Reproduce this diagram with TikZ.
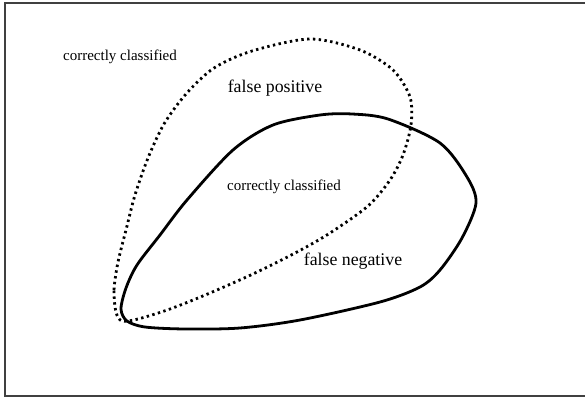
\documentclass[tikz,border=0pt]{standalone}
\usepackage{fontspec}
\setmainfont{Liberation Serif}
\usetikzlibrary{positioning, calc}

\begin{document}
\begin{tikzpicture}[x=1pt, y=-1pt,
    actual/.style={line width=2.8pt, line join=round},
    predicted/.style={line width=2.8pt, dash pattern=on 2.4pt off 3.4pt},
    smalltext/.style={font=\fontsize{15}{17}\selectfont, inner sep=0pt},
    bigtext/.style={font=\fontsize{17.8}{20}\selectfont, inner sep=0pt}]
      \useasboundingbox (0,0) rectangle (585,398);
      \draw[line width=1.2pt, draw=black!75] (5,3) rectangle (592,396);

      % predicted class (dotted)
      \draw[predicted] plot[smooth cycle, tension=0.5] coordinates {
        (116,312) (114,290) (118,262) (126,230) (135,195) (148,158)
        (164,124) (186,94) (214,68) (252,51) (310,39) (360,50) (393,70)
        (410,97) (411,125) (403,155) (390,180) (368,206) (330,233)
        (297,252) (255,273) (210,293) (170,309) (138,319) (122,321)};

      % actual class (solid)
      \draw[actual] plot[smooth cycle, tension=0.5] coordinates {
        (121,309) (126,288) (137,265) (160,235) (187,200) (233,150) (273,125) (320,115)
        (352,114) (388,119) (440,143) (467,177) (476,203) (462,238)
        (440,270) (420,287) (380,302) (300,320) (240,328) (185,329)
        (145,327) (127,321)};

      \node[smalltext] (outside) at (120,57) {correctly classified};
      \node[smalltext] (inside) at (284,187) {correctly classified};
      \node[bigtext] (fp) at (275,88) {false positive};
      \node[bigtext] (fn) at (353,261) {false negative};
\end{tikzpicture}
\end{document}
